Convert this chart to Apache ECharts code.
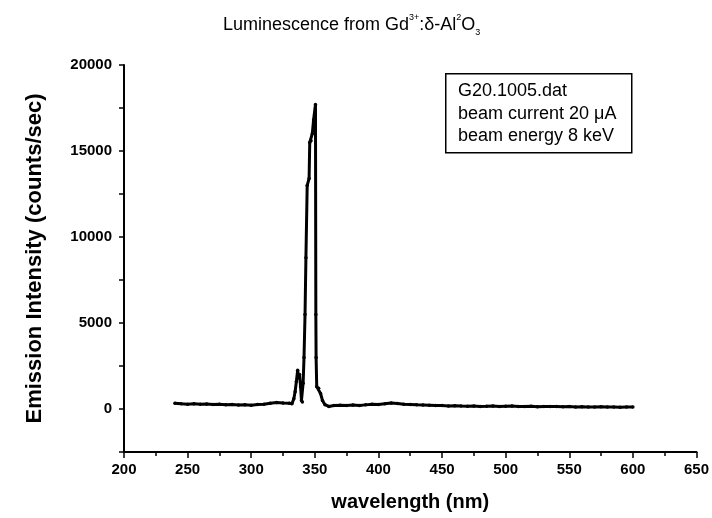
<!DOCTYPE html>
<html>
<head>
<meta charset="utf-8">
<script src="https://cdn.jsdelivr.net/npm/echarts@6/dist/echarts.min.js"></script>
<style>
  html, body { margin: 0; padding: 0; background: #fff; }
  #chart { width: 712px; height: 518px; }
</style>
</head>
<body>
<div id="chart"></div>
<script>
// wavelength (nm) and emission intensity (counts/sec)
var wavelengths = [
  240, 245, 250, 255, 260, 265, 270, 275, 280, 285, 290, 295, 300, 305, 310, 315, 320, 325, 330,
  332, 333.5, 334.5, 335.5, 336.5, 337.2, 338, 338.8, 339.5, 340.2, 340.8, 341.5, 342.3, 343, 344,
  345.5, 346, 347, 348, 349, 350.5,
  350.8, 351, 351.5, 353, 354.5, 356, 358, 361,
  365, 370, 375, 380, 385, 390, 395, 400, 405, 410, 415, 420, 425, 430, 435, 440, 445, 450,
  455, 460, 465, 470, 475, 480, 485, 490, 495, 500, 505, 510, 515, 520, 525, 530, 535, 540,
  545, 550, 555, 560, 565, 570, 575, 580, 585, 590, 595, 600
];
var intensities = [
  330, 300, 280, 300, 270, 290, 260, 280, 250, 260, 230, 240, 220, 260, 280, 330, 380, 350, 340,
  300, 600, 1000, 1600, 2250, 1800, 2000, 1300, 500, 400, 1500, 3000, 5500, 8800, 13000,
  13400, 15500, 15600, 16000, 16800, 17700,
  5500, 3000, 1300, 1200, 900, 500, 250, 150,
  200, 220, 200, 230, 210, 240, 270, 260, 300, 350, 320, 280, 260, 240, 230, 220, 210, 200,
  180, 190, 170, 160, 170, 150, 160, 180, 150, 160, 170, 140, 150, 160, 130, 150, 140, 150,
  130, 140, 120, 130, 110, 120, 130, 110, 120, 100, 110, 120
];
var yLabelValues = [0, 5000, 10000, 15000, 20000];
var legendLines = ['G20.1005.dat', 'beam current 20 \u03bcA', 'beam energy 8 keV'];

var points = wavelengths.map(function (w, i) { return [w, intensities[i]]; });

var chart = echarts.init(document.getElementById('chart'));
chart.setOption({
  animation: false,
  backgroundColor: '#fff',
  title: {
    left: 218,
    top: 8,
    text: '{n|Luminescence from Gd}{sup|3+}{n|:\u03b4-Al}{sup|2}{n|O}{sub|3}',
    textStyle: {
      fontWeight: 'normal',
      rich: {
        n: { fontFamily: 'Liberation Sans', fontWeight: 'normal', fontSize: 18, color: '#000', lineHeight: 24 },
        sup: { fontFamily: 'Liberation Sans', fontWeight: 'normal', fontSize: 9, color: '#000', verticalAlign: 'top', lineHeight: 24 },
        sub: { fontFamily: 'Liberation Sans', fontWeight: 'normal', fontSize: 9, color: '#000', verticalAlign: 'bottom', lineHeight: 12 }
      }
    }
  },
  grid: { left: 124, right: 13, top: 65, bottom: 66 },
  xAxis: {
    type: 'value',
    min: 200,
    max: 650,
    interval: 50,
    name: 'wavelength (nm)',
    nameLocation: 'middle',
    nameGap: 40,
    nameTextStyle: { fontFamily: 'Liberation Sans', fontWeight: 'bold', fontSize: 20, color: '#000' },
    axisLine: { onZero: false, lineStyle: { color: '#000', width: 2 } },
    axisTick: { length: 6, lineStyle: { color: '#000', width: 1.5 } },
    minorTick: { show: true, splitNumber: 2, length: 4, lineStyle: { color: '#000', width: 1.5 } },
    axisLabel: { margin: 10, fontFamily: 'Liberation Sans', fontWeight: 'bold', fontSize: 15, color: '#000' },
    splitLine: { show: false }
  },
  yAxis: {
    type: 'value',
    min: -2500,
    max: 20000,
    interval: 2500,
    name: 'Emission Intensity (counts/sec)',
    nameLocation: 'middle',
    nameGap: 78,
    nameTextStyle: { fontFamily: 'Liberation Sans', fontWeight: 'bold', fontSize: 22, color: '#000' },
    axisLine: { lineStyle: { color: '#000', width: 2 } },
    axisTick: { length: 5, lineStyle: { color: '#000', width: 1.5 } },
    axisLabel: {
      margin: 12,
      fontFamily: 'Liberation Sans', fontWeight: 'bold', fontSize: 15, color: '#000',
      formatter: function (v) { return yLabelValues.indexOf(v) >= 0 ? String(v) : ''; }
    },
    splitLine: { show: false }
  },
  graphic: [
    {
      type: 'rect', left: 445, top: 73, z: 10,
      shape: { width: 186, height: 79 },
      style: { fill: '#fff', stroke: '#000', lineWidth: 1.5 }
    },
    {
      type: 'text', left: 458, top: 80, z: 11,
      style: { text: legendLines.join('\n'), font: '18px "Liberation Sans"', lineHeight: 22.5, fill: '#000' }
    }
  ],
  series: [{
    type: 'line',
    data: points,
    symbol: 'circle',
    symbolSize: 3.5,
    showSymbol: true,
    itemStyle: { color: '#000' },
    lineStyle: { color: '#000', width: 3 }
  }]
});
</script>
</body>
</html>
